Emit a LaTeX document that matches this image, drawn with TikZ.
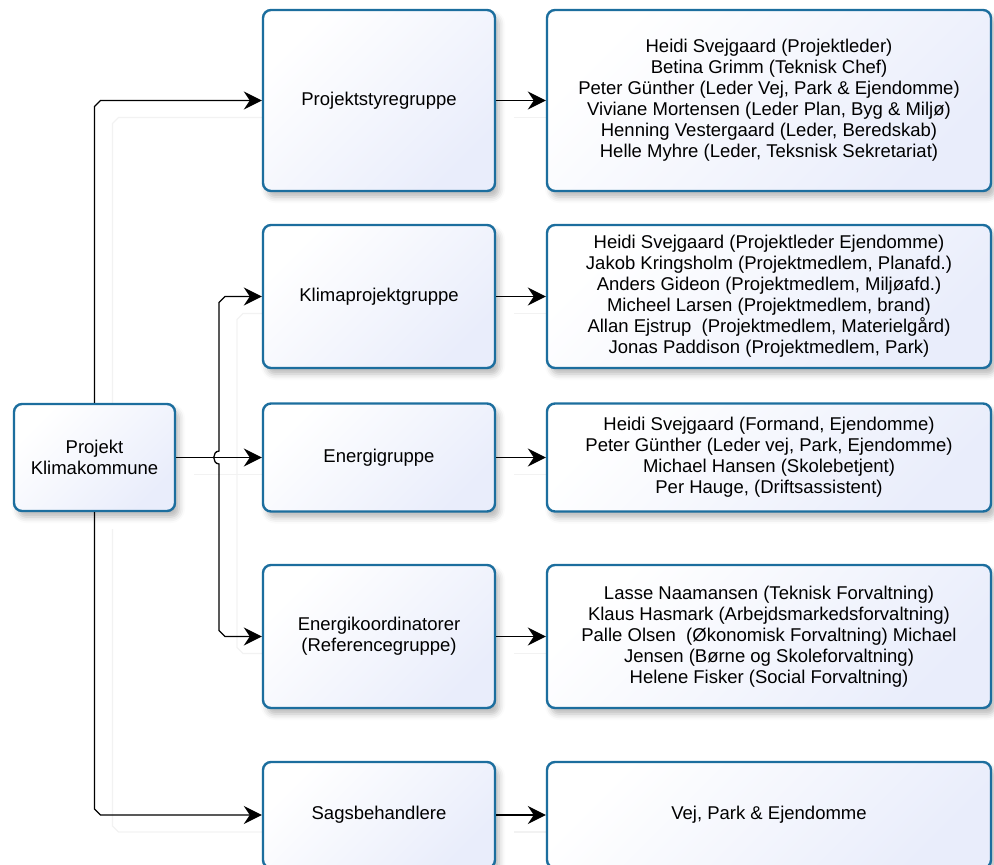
\documentclass[tikz,border=0pt]{standalone}
\usepackage{fontspec}
\setmainfont{Liberation Sans}
\usetikzlibrary{arrows.meta,calc,shadows.blur}
\definecolor{boxborder}{RGB}{28,110,158}
\definecolor{boxfillB}{RGB}{233,237,251}
\definecolor{lineshadow}{RGB}{242,242,242}
\pgfdeclarelayer{bg}\pgfsetlayers{bg,main}
\begin{document}
\begin{tikzpicture}[x=1pt,y=-1pt,
  box/.style={draw=boxborder, line width=2.4pt, rounded corners=8pt,
    top color=white, bottom color=boxfillB, shading angle=45,
    align=center, font=\fontsize{18.5}{21}\selectfont, inner sep=0pt,
    blur shadow={shadow xshift=4pt, shadow yshift=-6pt, shadow blur radius=6pt, shadow opacity=28}},
  colB/.style={box, minimum width=232pt},
  colC/.style={box, minimum width=444pt},
  conn/.style={line width=1.3pt, -{Stealth[length=18pt,width=18pt,inset=6pt]}},
  conn2/.style={line width=1.3pt, {Stealth[length=18pt,width=18pt,inset=6pt]}-{Stealth[length=18pt,width=18pt,inset=6pt]}},
  cshadow/.style={draw=lineshadow, line width=1.3pt, transform canvas={shift={(18pt,-17pt)}}}
]
\useasboundingbox (0,0) rectangle (994,865);

% left node
\node[box, minimum width=161pt, minimum height=107pt] (L) at (94.5,457.5) {Projekt\\Klimakommune};

% middle column
\node[colB, minimum height=181pt] (P1) at (379,100.5) {Projektstyregruppe};
\node[colB, minimum height=143pt] (P2) at (379,296.5) {Klimaprojektgruppe};
\node[colB, minimum height=108pt] (P3) at (379,457.5) {Energigruppe};
\node[colB, minimum height=143pt] (P4) at (379,636.5) {Energikoordinatorer\\(Referencegruppe)};
\node[colB, minimum height=106pt] (P5) at (379,815) {Sagsbehandlere};

% right column
\node[colC, minimum height=181pt] (Q1) at (769,100.5) {Heidi Svejgaard (Projektleder)\\Betina Grimm (Teknisk Chef)\\Peter Günther (Leder Vej, Park \& Ejendomme)\\Viviane Mortensen (Leder Plan, Byg \& Miljø)\\Henning Vestergaard (Leder, Beredskab)\\Helle Myhre (Leder, Teksnisk Sekretariat)};
\node[colC, minimum height=143pt] (Q2) at (769,296.5) {Heidi Svejgaard (Projektleder Ejendomme)\\Jakob Kringsholm (Projektmedlem, Planafd.)\\Anders Gideon (Projektmedlem, Miljøafd.)\\Micheel Larsen (Projektmedlem, brand)\\Allan Ejstrup\ \ (Projektmedlem, Materielgård)\\Jonas Paddison (Projektmedlem, Park)};
\node[colC, minimum height=108pt] (Q3) at (769,457.5) {Heidi Svejgaard (Formand, Ejendomme)\\Peter Günther (Leder vej, Park, Ejendomme)\\Michael Hansen (Skolebetjent)\\Per Hauge, (Driftsassistent)};
\node[colC, minimum height=143pt] (Q4) at (769,636.5) {Lasse Naamansen (Teknisk Forvaltning)\\Klaus Hasmark (Arbejdsmarkedsforvaltning)\\Palle Olsen\ \ (Økonomisk Forvaltning) Michael\\Jensen (Børne og Skoleforvaltning)\\Helene Fisker (Social Forvaltning)};
\node[colC, minimum height=106pt] (Q5) at (769,815) {Vej, Park \& Ejendomme};

\coordinate (J) at (219,457.5);

% faint connector shadows
\begin{pgfonlayer}{bg}
\draw[cshadow] (L.north) -- ($(L.north|-P1.west)+(0,6)$) -- ++(6,-6) -- (P1.west);
\draw[cshadow] (L.south) -- ($(L.south|-P5.west)+(0,-6)$) -- ++(6,6) -- (P5.west);
\draw[cshadow] (L.east) -- (P3.west);
\draw[cshadow] (P2.west) -- ($(J|-P2.west)+(6,0)$) -- ++(-6,6) -- ($(J|-P4.west)+(0,-6)$) -- ++(6,6) -- (P4.west);
\foreach \a/\b in {P1/Q1,P2/Q2,P3/Q3,P4/Q4,P5/Q5}{\draw[cshadow] (\a.east) -- (\b.west);}
\end{pgfonlayer}

% connectors
\draw[conn] (L.north) -- ($(L.north|-P1.west)+(0,6)$) -- ++(6,-6) -- (P1.west);
\draw[conn] (L.south) -- ($(L.south|-P5.west)+(0,-6)$) -- ++(6,6) -- (P5.west);
\draw[conn] (L.east) -- (P3.west);
\draw[conn2] (P2.west) -- ($(J|-P2.west)+(6,0)$) -- ++(-6,6) -- ($(J)+(0,-6.5)$)
  .. controls ($(J)+(-7,-6)$) and ($(J)+(-7,6)$) .. ($(J)+(0,6.5)$)
  -- ($(J|-P4.west)+(0,-6)$) -- ++(6,6) -- (P4.west);
\foreach \a/\b in {P1/Q1,P2/Q2,P3/Q3,P4/Q4,P5/Q5}{\draw[conn] (\a.east) -- (\b.west);}
\end{tikzpicture}
\end{document}
